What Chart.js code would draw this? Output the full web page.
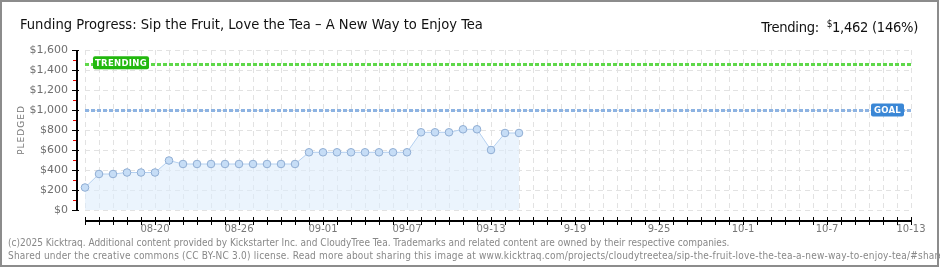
<!DOCTYPE html>
<html>
<head>
<meta charset="utf-8">
<script src="https://cdn.jsdelivr.net/npm/chart.js@4/dist/chart.umd.min.js"></script>
<style>
  body { margin: 0; background: #fff; }
  #wrap { position: relative; width: 940px; height: 270px; overflow: hidden; }
  #frame { position: absolute; left: 0; top: 0; width: 935px; height: 263px; border: 2px solid #8c8c8c; }
  #title { position: absolute; left: 20px; top: 15px; font: 14.6px "DejaVu Sans Condensed", "DejaVu Sans", sans-serif; line-height: 18px; color: #111; white-space: nowrap; }
  #trend { position: absolute; right: 22px; top: 15px; font: 14.6px "DejaVu Sans Condensed", "DejaVu Sans", sans-serif; line-height: 18px; color: #111; white-space: nowrap; letter-spacing: -0.3px; }
  #trend sup { font-size: 10px; vertical-align: 5px; }
  #foot { position: absolute; left: 8px; top: 236px; font: 10px "DejaVu Sans Condensed", "DejaVu Sans", sans-serif; line-height: 13px; color: #888; white-space: nowrap; }
  #foot .l2 { letter-spacing: 0.2px; }
  canvas { position: absolute; left: 0; top: 0; }
</style>
</head>
<body>
<div id="wrap">
  <canvas id="funding" width="940" height="270"></canvas>
  <div id="title">Funding Progress: Sip the Fruit, Love the Tea – A New Way to Enjoy Tea</div>
  <div id="trend">Trending: &nbsp;<sup>$</sup>1,462 (146%)</div>
  <div id="foot">(c)2025 Kicktraq. Additional content provided by Kickstarter Inc. and CloudyTree Tea. Trademarks and related content are owned by their respective companies.<br><span class="l2">Shared under the creative commons (CC BY-NC 3.0) license. Read more about sharing this image at www.kicktraq.com/projects/cloudytreetea/sip-the-fruit-love-the-tea-a-new-way-to-enjoy-tea/#share</span></div>
  <div id="frame"></div>
</div>
<script>
// days from 08-15 to 10-13
const startDay = new Date(2025, 7, 15);
const dayCount = 60;
const tickLabels = ['08-20', '08-26', '09-01', '09-07', '09-13', '9-19', '9-25', '10-1', '10-7', '10-13'];
const pledged = [225, 360, 360, 375, 375, 375, 495, 460, 460, 460, 460, 460, 460, 460, 460, 460,
                 577, 577, 577, 577, 577, 577, 577, 577, 777, 777, 777, 807, 807, 600, 770, 770];
const goal = 1000;
const trending = 1462;

const days = [];
for (let i = 0; i < dayCount; i++) {
  const d = new Date(startDay.getTime() + i * 86400000);
  days.push(String(d.getMonth() + 1).padStart(2, '0') + '-' + String(d.getDate()).padStart(2, '0'));
}

const extras = {
  id: 'extras',
  beforeDatasetsDraw(chart) {
    const { ctx, chartArea: a, scales: { x, y } } = chart;
    ctx.save();
    // reference lines
    ctx.lineWidth = 3;
    ctx.setLineDash([4, 2]);
    ctx.strokeStyle = '#8db3e2';
    let gy = Math.round(y.getPixelForValue(goal)) + 0.5;
    ctx.beginPath(); ctx.moveTo(a.left, gy); ctx.lineTo(a.right, gy); ctx.stroke();
    ctx.strokeStyle = '#5fd84a';
    let ty = Math.round(y.getPixelForValue(trending)) + 0.5;
    ctx.beginPath(); ctx.moveTo(a.left, ty); ctx.lineTo(a.right, ty); ctx.stroke();
    ctx.setLineDash([]);

    // y axis ticks and line
    for (let v = 0; v <= 1600; v += 100) {
      const py = Math.round(y.getPixelForValue(v)) + 0.5;
      ctx.lineWidth = 1;
      ctx.beginPath();
      if (v % 200 === 0) { ctx.strokeStyle = '#000'; ctx.moveTo(72, py); ctx.lineTo(79, py); }
      else { ctx.strokeStyle = '#e00'; ctx.moveTo(73, py); ctx.lineTo(76, py); }
      ctx.stroke();
    }
    ctx.fillStyle = '#000';
    ctx.fillRect(76, a.top, 2, a.bottom - a.top + 1);

    // x axis line and ticks
    const ax = Math.round(a.bottom) + 10;
    ctx.fillRect(a.left, ax, a.right - a.left + 1, 2);
    for (let i = 0; i < dayCount; i++) {
      const px = Math.round(x.getPixelForValue(i));
      ctx.fillRect(px, ax - 3, 1, 8);
    }

    // axis title
    ctx.translate(22, 130);
    ctx.rotate(-Math.PI / 2);
    ctx.font = '9px "DejaVu Sans", sans-serif';
    ctx.letterSpacing = '1px';
    ctx.fillStyle = '#777';
    ctx.textAlign = 'center';
    ctx.textBaseline = 'middle';
    ctx.fillText('PLEDGED', 0, 0);
    ctx.restore();
  },
  afterDatasetsDraw(chart) {
    const { ctx, chartArea: a, scales: { y } } = chart;
    const tag = (text, left, cy, w, color) => {
      ctx.fillStyle = color;
      ctx.beginPath(); ctx.roundRect(left, cy - 6.5, w, 13, 2); ctx.fill();
      ctx.fillStyle = '#fff';
      ctx.font = 'bold 8.5px "DejaVu Sans", sans-serif';
      ctx.letterSpacing = '0.3px';
      ctx.textAlign = 'center';
      ctx.textBaseline = 'middle';
      ctx.fillText(text, left + w / 2, cy + 0.5);
    };
    ctx.save();
    tag('TRENDING', a.left + 8, y.getPixelForValue(trending) - 1, 56, '#22b80e');
    tag('GOAL', a.right - 40, y.getPixelForValue(goal), 33, '#3a87d6');
    ctx.restore();
  }
};

new Chart(document.getElementById('funding'), {
  type: 'line',
  data: {
    labels: days,
    datasets: [{
      data: pledged,
      borderColor: '#b4d0f0',
      borderWidth: 1,
      backgroundColor: 'rgba(222,236,252,0.6)',
      fill: 'origin',
      tension: 0,
      pointRadius: 3.8,
      pointBackgroundColor: '#c6ddf6',
      pointBorderColor: '#8fadd3',
      pointBorderWidth: 1
    }]
  },
  options: {
    responsive: false,
    animation: false,
    events: [],
    layout: { padding: { top: 50, right: 29, left: 0, bottom: 0 } },
    plugins: { legend: { display: false }, tooltip: { enabled: false } },
    scales: {
      x: {
        grid: { color: '#e2e2e2', tickLength: 13, tickColor: 'rgba(0,0,0,0)' },
        border: { display: false, dash: [5, 4] },
        ticks: {
          autoSkip: false, maxRotation: 0, padding: 0,
          color: '#777', font: { family: 'DejaVu Sans', size: 10 },
          callback: (v, i) => (i % 6 === 5 ? tickLabels[(i - 5) / 6] : '')
        },
        afterFit: s => { s.height = 60; }
      },
      y: {
        min: 0, max: 1600,
        grid: { color: '#e2e2e2', tickLength: 9, tickColor: 'rgba(0,0,0,0)' },
        border: { display: false, dash: [5, 4] },
        ticks: {
          stepSize: 200, padding: 8,
          color: '#6f6f6f', font: { family: 'DejaVu Sans', size: 11 },
          callback: v => '$' + v.toLocaleString('en-US')
        },
        afterFit: s => { s.width = 85; }
      }
    }
  },
  plugins: [extras]
});
</script>
</body>
</html>
